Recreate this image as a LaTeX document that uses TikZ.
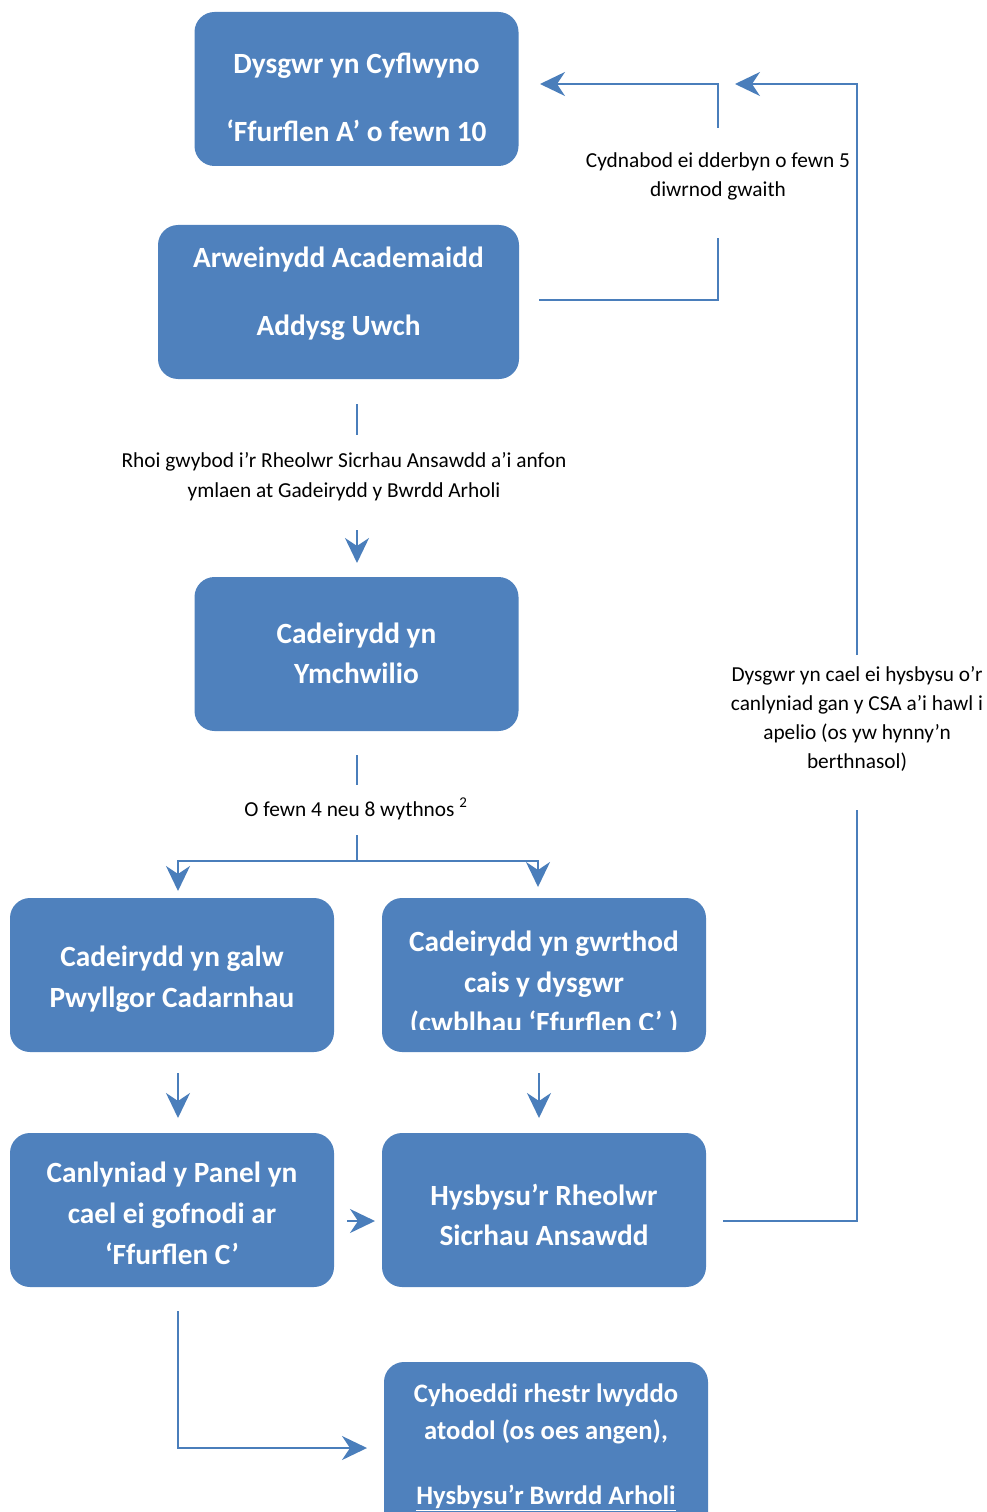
\documentclass[tikz,border=0pt]{standalone}
\usepackage{fontspec}
\setmainfont{Carlito}
\usetikzlibrary{arrows.meta}
\definecolor{bblue}{HTML}{4F81BD}
\definecolor{lblue}{HTML}{4A7EBB}
\begin{document}
\begin{tikzpicture}[x=0.75pt,y=-0.75pt,
  box/.style={fill=bblue, draw=none, rounded corners=15pt, inner sep=0pt,
    minimum width=243pt, minimum height=115.5pt},
  btxt/.style={text=white, font=\bfseries\fontsize{22}{26}\selectfont, inner sep=0pt, anchor=base},
  stxt/.style={btxt, font=\bfseries\fontsize{20}{24}\selectfont},
  ltxt/.style={text=black, font=\fontsize{16}{22}\selectfont, inner sep=0pt, anchor=base},
  ln/.style={draw=lblue, line width=1.5pt},
  arr/.style={ln, -{Stealth[length=18.75pt,width=18pt,inset=6pt]}}
]
\useasboundingbox (0,0) rectangle (986,1512);

% boxes
\node[box] (b1) at (356.5,89) {};
\node[box, minimum width=270.75pt] (b2) at (338.5,302) {};
\node[box] (b3) at (356.5,654) {};
\node[box] (b4) at (172,975) {};
\node[box] (b5) at (544,975) {};
\node[box] (b6) at (172,1210) {};
\node[box] (b7) at (544,1210) {};
\node[box, minimum height=132pt] (b8) at (546,1450) {};

% box texts
\node[btxt] (t1a) at (356.5,73.5) {Dysgwr yn Cyflwyno};
\node[btxt] (t1b) at (356.5,141.5) {‘Ffurflen A’ o fewn 10};
\node[btxt] (t2a) at (338.5,267.5) {Arweinydd Academaidd};
\node[btxt] (t2b) at (338.5,335.5) {Addysg Uwch};
\node[btxt] (t3a) at (356.5,643.5) {Cadeirydd yn};
\node[btxt] (t3b) at (356.5,683.5) {Ymchwilio};
\node[btxt] (t4a) at (172,966.5) {Cadeirydd yn galw};
\node[btxt] (t4b) at (172,1007.5) {Pwyllgor Cadarnhau};
\node[btxt] (t5a) at (544,951.5) {Cadeirydd yn gwrthod};
\node[btxt] (t5b) at (544,992.5) {cais y dysgwr};
\begin{scope}
\clip (382,1000) rectangle (706,1029);
\node[btxt] (t5c) at (544,1032) {(cwblhau ‘Ffurflen C’ )};
\end{scope}
\node[btxt] (t6a) at (172,1182.5) {Canlyniad y Panel yn};
\node[btxt] (t6b) at (172,1223.5) {cael ei gofnodi ar};
\node[btxt] (t6c) at (172,1264.5) {‘Ffurflen C’};
\node[btxt] (t7a) at (544,1205) {Hysbysu’r Rheolwr};
\node[btxt] (t7b) at (544,1245.5) {Sicrhau Ansawdd};
\node[stxt] (t8a) at (546,1402.5) {Cyhoeddi rhestr lwyddo};
\node[stxt] (t8b) at (546,1439.5) {atodol (os oes angen),};
\node[stxt] (t8c) at (546,1504) {\underline{Hysbysu’r Bwrdd Arholi}};

% labels
\node[ltxt] (l1a) at (718,167.5) {Cydnabod ei dderbyn o fewn 5};
\node[ltxt] (l1b) at (718,197) {diwrnod gwaith};
\node[ltxt] (l2a) at (344,467) {Rhoi gwybod i’r Rheolwr Sicrhau Ansawdd a’i anfon};
\node[ltxt] (l2b) at (344,497) {ymlaen at Gadeirydd y Bwrdd Arholi};
\node[ltxt] (l3) at (356,816) {O fewn 4 neu 8 wythnos \textsuperscript{2}};
\node[ltxt] (l4a) at (857,681) {Dysgwr yn cael ei hysbysu o’r};
\node[ltxt] (l4b) at (857,710) {canlyniad gan y CSA a’i hawl i};
\node[ltxt] (l4c) at (857,739) {apelio (os yw hynny’n};
\node[ltxt] (l4d) at (857,768) {berthnasol)};

% connector coordinates
\coordinate (p1) at (539,300);
\coordinate (p2) at (718,238);
\coordinate (p3) at (718,128);
\coordinate (p4) at (540,84);
\coordinate (q1) at (723,1221);
\coordinate (q2) at (857,810);
\coordinate (q3) at (857,655);
\coordinate (q4) at (735,84);
\coordinate (r1) at (357,404);
\coordinate (r2) at (357,435);
\coordinate (r3) at (357,530);
\coordinate (r4) at (357,563);
\coordinate (s1) at (357,755);
\coordinate (s2) at (357,785);
\coordinate (s3) at (357,835);
\coordinate (s4) at (357,861);
\coordinate (s5) at (178,891);
\coordinate (s6) at (538,887);
\coordinate (u1) at (178,1073);
\coordinate (u2) at (178,1118);
\coordinate (v1) at (539,1073);
\coordinate (v2) at (539,1118);
\coordinate (w1) at (347,1221);
\coordinate (w2) at (375,1221);
\coordinate (z1) at (178,1311);
\coordinate (z2) at (367,1448);

% connectors
\draw[ln] (p1) -| (p2);
\draw[arr] (p3) |- (p4);
\draw[ln] (q1) -| (q2);
\draw[arr] (q3) |- (q4);
\draw[ln] (r1) -- (r2);
\draw[arr] (r3) -- (r4);
\draw[ln] (s1) -- (s2);
\draw[arr] (s3) -- (s4) -| (s5);
\draw[arr] (s4) -| (s6);
\draw[arr] (u1) -- (u2);
\draw[arr] (v1) -- (v2);
\draw[arr] (w1) -- (w2);
\draw[arr] (z1) |- (z2);
\end{tikzpicture}
\end{document}
